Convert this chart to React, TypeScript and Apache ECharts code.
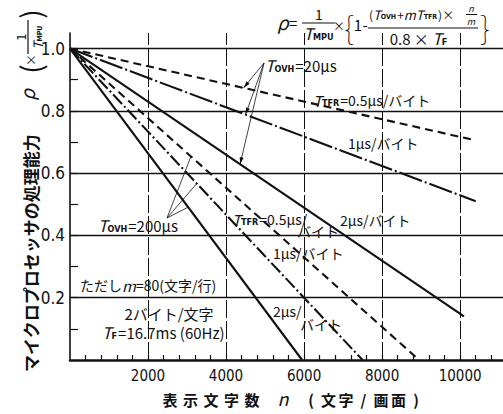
import React, { useEffect, useRef } from "react";
import * as echarts from "echarts";

// ---- data ----
const xTickLabels = [2000, 4000, 6000, 8000, 10000];
const yTickLabels = [0.2, 0.4, 0.6, 0.8, 1.0];
const yMinorTicks = [0.1, 0.2, 0.3, 0.4, 0.5, 0.6, 0.7, 0.8, 0.9, 1.0];
const xMinorTicks = [400, 800, 1200, 1600, 2000, 2400, 2800, 3200, 3600, 4000, 4400, 4800, 5200, 5600, 6000, 6400, 6800, 7200, 7600, 8000, 8400, 8800, 9200, 9600, 10000, 10400, 10800];

// start / end points [n, rho] of each line
const ovh20Tfr05 = [[0, 1.0], [10400, 0.705]];
const ovh20Tfr1 = [[0, 1.0], [10400, 0.51]];
const ovh20Tfr2 = [[0, 1.0], [10100, 0.14]];
const ovh200Tfr05 = [[0, 1.0], [8950, 0]];
const ovh200Tfr1 = [[0, 1.0], [7500, 0]];
const ovh200Tfr2 = [[0, 1.0], [5950, 0]];

const JP = '"Noto Sans CJK JP", "Noto Sans", sans-serif';
const NUM = '"Liberation Sans Narrow", "DejaVu Sans Condensed", "Liberation Sans", sans-serif';
const BLACK = "#111";

const rich = (size: number) => ({
  i: { fontStyle: "italic", fontSize: size + 1, fontFamily: JP, fill: BLACK },
  s: { fontSize: Math.round(size * 0.62), fontFamily: NUM, fontWeight: "bold", verticalAlign: "bottom", padding: [0, 1, 0, 0], fill: BLACK },
  n: { fontSize: size, fontFamily: JP, fill: BLACK },
});

const txt = (text: string, x: number, y: number, size = 14, align = "left", extra: any = {}) => ({
  type: "text",
  x,
  y,
  silent: true,
  style: {
    text,
    rich: rich(size),
    fontSize: size,
    fontFamily: JP,
    fill: BLACK,
    textAlign: align,
    textVerticalAlign: "middle",
    ...extra,
  },
});

const seg = (x1: number, y1: number, x2: number, y2: number, w = 1) => ({
  type: "line",
  silent: true,
  shape: { x1, y1, x2, y2 },
  style: { stroke: BLACK, lineWidth: w },
});

export default function App() {
  const ref = useRef<HTMLDivElement>(null);

  useEffect(() => {
    if (!ref.current) return;
    const chart = echarts.init(ref.current, undefined, { renderer: "svg" });

    const lineSeries = (data: number[][], type: any, width = 2.1) => ({
      type: "line",
      data,
      symbol: "none",
      silent: true,
      lineStyle: { color: BLACK, width, type },
    });

    chart.setOption({
      animation: false,
      backgroundColor: "#fff",
      grid: { left: 70, right: 0, top: 33, bottom: 54 },
      xAxis: {
        type: "value",
        min: 0,
        max: 11100,
        splitLine: { show: false },
        axisLine: { show: true, onZero: false, lineStyle: { color: BLACK, width: 2.5 } },
        axisTick: { show: true, inside: true, length: 5, customValues: xMinorTicks, lineStyle: { color: BLACK, width: 1.2 } },
        axisLabel: {
          customValues: xTickLabels,
          margin: 8,
          color: BLACK,
          fontSize: 15,
          fontFamily: NUM,
          formatter: (v: number) => String(v),
        },
      },
      yAxis: {
        type: "value",
        min: 0,
        max: 1.05,
        splitLine: { show: false },
        axisLine: { show: true, onZero: false, lineStyle: { color: BLACK, width: 1.6 } },
        axisTick: { show: true, inside: true, length: 8, customValues: yMinorTicks, lineStyle: { color: BLACK, width: 1.2 } },
        axisLabel: {
          customValues: yTickLabels,
          margin: 5,
          color: BLACK,
          fontSize: 17,
          fontFamily: NUM,
          formatter: (v: number) => v.toFixed(1),
        },
      },
      series: [
        {
          ...lineSeries(ovh20Tfr05, [8, 5]),
          markLine: {
            silent: true,
            symbol: "none",
            label: { show: false },
            data: [
              ...yTickLabels.map((v) => ({ yAxis: v, lineStyle: { color: BLACK, width: 1.3, type: "solid" } })),
              ...xTickLabels.map((v) => ({ xAxis: v, lineStyle: { color: BLACK, width: 1, type: [18, 3] } })),
            ],
          },
        },
        lineSeries(ovh20Tfr1, [24, 3, 2, 3]),
        lineSeries(ovh20Tfr2, "solid"),
        lineSeries(ovh200Tfr05, [8, 5]),
        lineSeries(ovh200Tfr1, [13, 3, 2, 3]),
        lineSeries(ovh200Tfr2, "solid"),
      ],
    });

    const onLine = (line: number[][], n: number) => [
      n,
      line[0][1] + ((line[1][1] - line[0][1]) * (n - line[0][0])) / (line[1][0] - line[0][0]),
    ];
    const px = (p: number[]) => chart.convertToPixel({ gridIndex: 0 }, p) as number[];

    const leaders: any[] = [];
    const arrow = (o: number[], t: number[]) => {
      const dx = t[0] - o[0];
      const dy = t[1] - o[1];
      const L = Math.hypot(dx, dy) || 1;
      const ux = dx / L, uy = dy / L;
      const bx = t[0] - ux * 7, by = t[1] - uy * 7;
      return {
        type: "polygon",
        silent: true,
        shape: { points: [[t[0], t[1]], [bx - uy * 2, by + ux * 2], [bx + uy * 2, by - ux * 2]] },
        style: { fill: BLACK },
      };
    };
    const o20 = [264, 63];
    [onLine(ovh20Tfr05, 4450), onLine(ovh20Tfr1, 4500), onLine(ovh20Tfr2, 4360)].forEach((p) => {
      const t = px(p);
      leaders.push(seg(o20[0], o20[1], t[0], t[1], 0.8));
      leaders.push(arrow(o20, t));
    });
    const o200 = [167, 218];
    [onLine(ovh200Tfr05, 3100), onLine(ovh200Tfr1, 3250), onLine(ovh200Tfr2, 3030)].forEach((p) => {
      const t = px(p);
      leaders.push(seg(o200[0], o200[1], t[0], t[1], 0.8));
    });

    const spaced = (chars: string[], x0: number, pitch: number, y: number, size: number, weight = "bold") =>
      chars.map((c, k) => txt(c, x0 + k * pitch, y, size, "center", { fontWeight: weight }));

    const graphic: any[] = [
      ...leaders,
      // formula
      txt("{i|ρ}", 277, 21, 18),
      txt("=", 289, 22, 15),
      txt("1", 319, 14, 14, "center"),
      seg(302, 23, 335, 23, 1.2),
      txt("{i|T}{s|MPU}", 319, 33, 15, "center"),
      txt("×", 339, 25, 12, "center"),
      txt("{", 349, 26, 32, "center", { fontWeight: "lighter" }),
      txt("1", 358, 24, 15, "center"),
      txt("-", 365, 24, 15, "center"),
      txt("{n|(}{i|T}{s|OVH}{n|+}{i|m}{i|T}{s|TFR}{n|)×}", 369, 14, 12),
      txt("n", 471, 8, 9, "center", { fontStyle: "italic", lineHeight: 9, rich: undefined }),
      seg(466, 14.5, 477, 14.5, 1),
      txt("m", 471, 21, 9, "center", { fontStyle: "italic", lineHeight: 9, rich: undefined }),
      seg(368, 28, 478, 28, 1.2),
      txt("{n|0.8 × }{i|T}{s|F}", 419, 38, 15, "center"),
      txt("}", 485, 26, 32, "center", { fontWeight: "lighter" }),
      // line labels
      txt("{i|T}{s|OVH}{n|=20μs}", 265, 65, 15),
      txt("{i|T}{s|TFR}{n|=0.5μs/バイト}", 313, 100, 14),
      txt("{n|1μs/バイト}", 348, 143, 14),
      txt("{n|2μs/バイト}", 340, 220, 14),
      txt("{i|T}{s|TFR}{n|=0.5μs/}", 232, 219, 14),
      txt("{n|バイト}", 297, 231, 14),
      txt("{n|1μs/バイト}", 273, 253, 14),
      txt("{n|2μs/}", 273, 311, 14),
      txt("{n|バイト}", 300, 324, 14),
      txt("{i|T}{s|OVH}{n|=200μs}", 98, 225, 15),
      // notes
      txt("{n|ただし}{i|m}{n|=80(文字/行)}", 80, 285, 14),
      txt("{n|2バイト/文字}", 169, 313, 15, "center"),
      txt("{i|T}{s|F}{n|=16.7ms (60Hz)}", 102, 332, 15),
      // x axis name
      ...spaced(["表", "示", "文", "字", "数"], 170, 20.5, 399, 15),
      txt("{i|n}", 283, 398, 17, "center"),
      ...spaced(["(", "文", "字", "/", "画", "面", ")"], 311, 17.5, 399, 15),
      // y axis name (rotated)
      {
        type: "group",
        x: 30,
        y: 372,
        rotation: Math.PI / 2,
        silent: true,
        children: [
          {
            type: "text",
            x: 0,
            y: 0,
            style: { text: "マイクロプロセッサの処理能力", fontSize: 17, fontWeight: "bold", fontFamily: JP, fill: BLACK, textAlign: "left", textVerticalAlign: "middle" },
          },
          {
            type: "text",
            x: 277,
            y: -4,
            style: { text: "ρ", fontSize: 19, fontStyle: "italic", fontFamily: JP, fill: BLACK, textAlign: "center", textVerticalAlign: "middle" },
          },
          {
            type: "text",
            x: 303,
            y: 0,
            style: { text: "(", fontSize: 28, fontFamily: JP, fill: BLACK, textAlign: "center", textVerticalAlign: "middle" },
          },
          {
            type: "text",
            x: 312,
            y: 0,
            style: { text: "×", fontSize: 12, fontFamily: JP, fill: BLACK, textAlign: "center", textVerticalAlign: "middle" },
          },
          {
            type: "text",
            x: 335,
            y: -9,
            style: { text: "1", fontSize: 13, fontFamily: NUM, fill: BLACK, textAlign: "center", textVerticalAlign: "middle" },
          },
          { type: "line", shape: { x1: 318, y1: -2, x2: 352, y2: -2 }, style: { stroke: BLACK, lineWidth: 1.2 } },
          {
            type: "text",
            x: 335,
            y: 7,
            style: { text: "{i|T}{s|MPU}", rich: rich(12), fontSize: 12, fontFamily: JP, fill: BLACK, textAlign: "center", textVerticalAlign: "middle" },
          },
          {
            type: "text",
            x: 358,
            y: 0,
            style: { text: ")", fontSize: 28, fontFamily: JP, fill: BLACK, textAlign: "center", textVerticalAlign: "middle" },
          },
        ],
      },
    ];

    chart.setOption({ graphic });

    return () => chart.dispose();
  }, []);

  return (
    <div
      ref={ref}
      style={{ position: "fixed", left: 0, top: 0, width: 503, height: 414, background: "#fff" }}
    />
  );
}
